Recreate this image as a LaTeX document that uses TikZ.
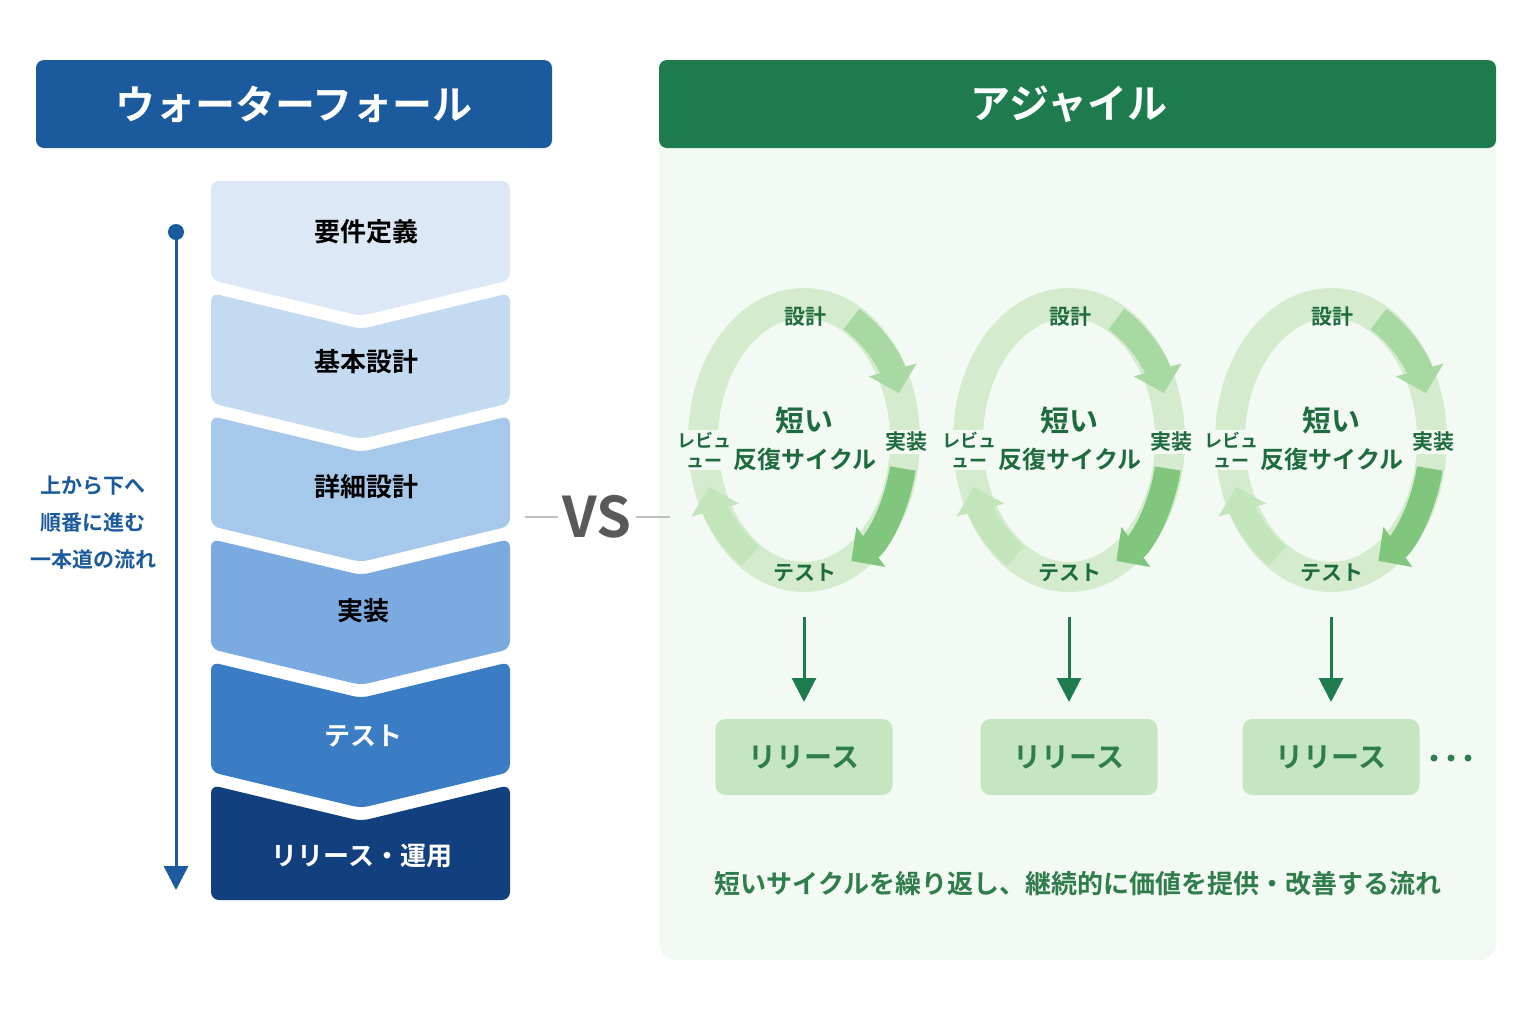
\documentclass[tikz,border=0pt]{standalone}
\usepackage{fontspec}
\setmainfont{Noto Sans CJK JP}[BoldFont={* Bold}]
\usetikzlibrary{arrows.meta}
\definecolor{wfblue}{HTML}{1B5A9C}
\definecolor{agreen}{HTML}{1E7B4E}
\definecolor{agbg}{HTML}{F3F9F3}
\definecolor{ring}{HTML}{D4ECCD}
\definecolor{arA}{HTML}{A9D9A2}
\definecolor{arB}{HTML}{80C67C}
\definecolor{arC}{HTML}{C2E5BB}
\definecolor{txtg}{HTML}{1F6B40}
\definecolor{relbox}{HTML}{C5E6C0}
\definecolor{reltxt}{HTML}{2E7D4A}
\definecolor{s1}{HTML}{DCE8F6}
\definecolor{s2}{HTML}{C3DAF1}
\definecolor{s3}{HTML}{A6C8EA}
\definecolor{s4}{HTML}{7AAADF}
\definecolor{s5}{HTML}{3A7DC4}
\definecolor{s6}{HTML}{123F7E}
\begin{document}
\begin{tikzpicture}[x=0.5pt,y=-0.5pt,
  hdr/.style={font=\bfseries\fontsize{20}{24}\selectfont,text=white},
  stg/.style={font=\bfseries\fontsize{13}{16}\selectfont},
  cyl/.style={font=\bfseries\fontsize{10.5}{12}\selectfont,text=txtg,align=center},
  cen/.style={font=\bfseries\fontsize{14.5}{18}\selectfont,text=txtg},
  rel/.style={fill=relbox,rounded corners=5pt,minimum width=88.5pt,minimum height=38pt,font=\bfseries\fontsize{14}{16}\selectfont,text=reltxt},
  darr/.style={-{Triangle[length=12pt,width=12pt]},line width=1.5pt,draw=agreen}]
\useasboundingbox (0,0) rectangle (1536,1024);
\fill[white] (0,0) rectangle (1536,1024);
% headers
\fill[wfblue,rounded corners=4pt] (36,60) rectangle (552,148);
\node[hdr] (wfh) at (294,104) {ウォーターフォール};
\fill[agbg,rounded corners=8pt] (659,100) rectangle (1496,960);
\fill[agreen,rounded corners=4pt] (659,60) rectangle (1496,148);
\node[hdr] (agh) at (1069,104) {アジャイル};
% waterfall stages
\def\stage#1#2#3#4#5#6{%
  \fill[#3,rounded corners=4pt] (211,#1) -- (361,#1+#5) -- (510,#1) -- (510,#2) -- (361,#2+#6) -- (211,#2) -- cycle;}
\stage{181}{280}{s1}{}{0}{36}
\stage{293}{403}{s2}{}{36}{36}
\stage{416}{526}{s3}{}{36}{36}
\stage{539}{649}{s4}{}{36}{36}
\stage{662}{772}{s5}{}{36}{36}
\stage{785}{900}{s6}{}{36}{0}
\node[stg] (w1) at (366,232) {要件定義};
\node[stg] (w2) at (366,362) {基本設計};
\node[stg] (w3) at (366,487) {詳細設計};
\node[stg] (w4) at (363,611) {実装};
\node[stg,text=white] (w5) at (363,736) {テスト};
\node[stg,text=white] (w6) at (362,856) {リリース・運用};
% side arrow
\coordinate (ta) at (176,232);
\coordinate (tb) at (176,890);
\fill[wfblue] (ta) circle (8);
\draw[wfblue,line width=1.5pt,-{Triangle[length=12pt,width=12pt]}] (ta) -- (tb);
\node[font=\bfseries\fontsize{10.5}{18.5}\selectfont,text=wfblue,align=center] (side) at (93,523) {上から下へ\\順番に進む\\一本道の流れ};
% VS
\node[font=\bfseries\fontsize{28}{30}\selectfont,text=black!65] (vs) at (597,517) {VS};
\draw[black!25,line width=1.2pt] (525,517) -- (558,517) (636,517) -- (670,517);
% cycles
\foreach \cx/\i in {804/1,1069/2,1331/3}{
  \draw[ring,line width=15pt] (\cx,440) ellipse [x radius=101,y radius=137];
  \draw[arA,line width=13pt,-{Triangle[length=12pt,width=24pt]}] (\cx,440) ++(-62:101 and 137) arc[start angle=-62,end angle=-20,x radius=101,y radius=137];
  \draw[arB,line width=13pt,-{Triangle[length=12pt,width=24pt]}] (\cx,440) ++(12:101 and 137) arc[start angle=12,end angle=62,x radius=101,y radius=137];
  \draw[arC,line width=13pt,-{Triangle[length=12pt,width=24pt]}] (\cx,440) ++(122:101 and 137) arc[start angle=122,end angle=160,x radius=101,y radius=137];
  \node[cyl] (d\i) at (\cx+1,317) {設計};
  \node[cyl,fill=agbg,inner sep=1pt] (j\i) at (\cx+102,442) {実装};
  \node[cyl] (t\i) at (\cx+1,573) {テスト};
  \node[cyl,fill=agbg,inner sep=1pt,font=\bfseries\fontsize{9}{10}\selectfont] (r\i) at (\cx-100,450) {レビュ\\ュー};
  \node[cen] (c\i) at (\cx,420) {短い};
  \node[cen,font=\bfseries\fontsize{12}{14}\selectfont] (k\i) at (\cx+1,459) {反復サイクル};
  \node[rel] (rl\i) at (\cx,757) {リリース};
  \coordinate (a\i) at (\cx,617);
  \draw[darr] (a\i) -- (rl\i.north |- 0,702);
}
\foreach \x in {1434,1451,1468} \fill[reltxt] (\x,758) circle (3.5);
\node[font=\bfseries\fontsize{13}{15}\selectfont,text=reltxt] (bt) at (1078,884) {短いサイクルを繰り返し、継続的に価値を提供・改善する流れ};
\end{tikzpicture}
\end{document}
